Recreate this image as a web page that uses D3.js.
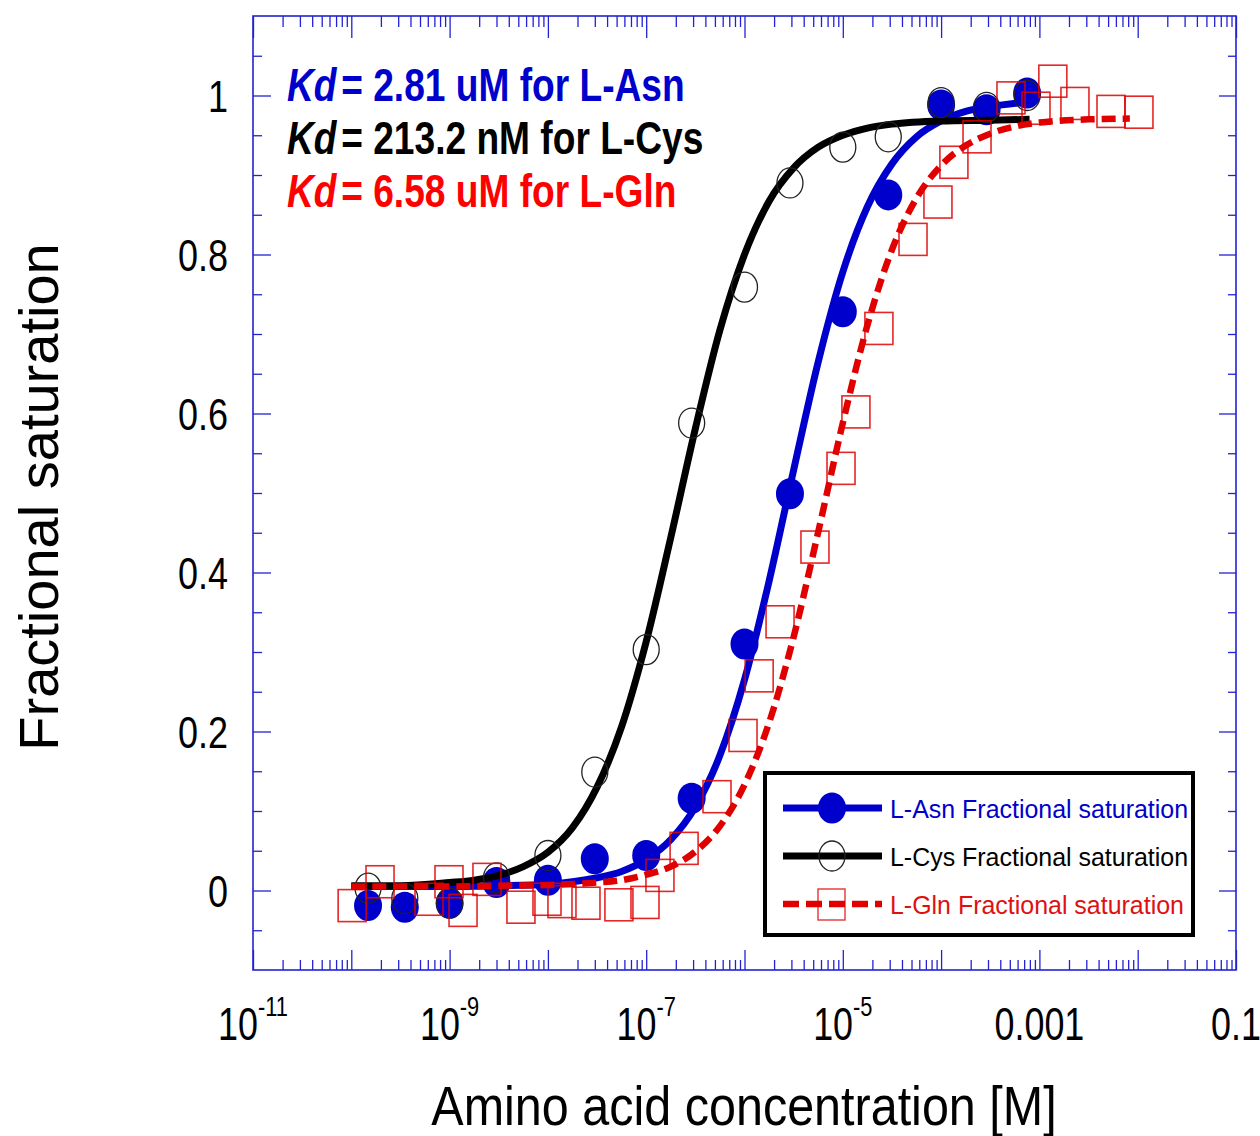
<!DOCTYPE html>
<html><head><meta charset="utf-8">
<script src="https://cdn.jsdelivr.net/npm/d3@7"></script>
<style>html,body{margin:0;padding:0;background:#fff;} svg{display:block;font-family:"Liberation Sans",Arial,sans-serif;}</style>
</head><body><svg id="chart" width="1260" height="1136"></svg>
<script>
// ---------------- data ----------------
const seriesNames = ["L-Asn Fractional saturation", "L-Cys Fractional saturation", "L-Gln Fractional saturation"];
const kdLabels = [["Kd", "= 2.81 uM for L-Asn"], ["Kd", "= 213.2 nM for L-Cys"], ["Kd", "= 6.58 uM for L-Gln"]];

const asnConc = [1.48e-10, 3.5e-10, 1.0e-9, 3.0e-9, 1.0e-8, 3.0e-8, 1.0e-7, 2.9e-7, 1.0e-6, 2.9e-6, 1.0e-5, 2.9e-5, 1.0e-4, 2.9e-4, 7.5e-4];
const asnFrac = [-0.019, -0.021, -0.016, 0.010, 0.013, 0.040, 0.044, 0.116, 0.310, 0.499, 0.728, 0.875, 0.988, 0.982, 1.003];

const cysConc = [1.48e-10, 3.5e-10, 1.0e-9, 3.0e-9, 1.0e-8, 3.0e-8, 1.0e-7, 2.9e-7, 1.0e-6, 2.9e-6, 1.0e-5, 2.9e-5, 1.0e-4, 2.9e-4, 7.5e-4];
const cysFrac = [0.003, -0.010, -0.016, 0.016, 0.044, 0.149, 0.303, 0.588, 0.759, 0.890, 0.935, 0.948, 0.991, 0.985, 1.000];

const glnConc = [1.02e-10, 1.96e-10, 6.17e-10, 9.86e-10, 1.37e-9, 2.40e-9, 5.32e-9, 9.79e-9, 1.39e-8, 2.44e-8, 5.28e-8, 9.72e-8,
  1.38e-7, 2.43e-7, 5.25e-7, 9.66e-7, 1.41e-6, 2.30e-6, 5.21e-6, 9.59e-6, 1.36e-5, 2.33e-5, 5.18e-5, 9.29e-5,
  1.35e-4, 2.32e-4, 5.14e-4, 9.23e-4, 1.37e-3, 2.30e-3, 5.35e-3, 1.03e-2];
const glnFrac = [-0.019, 0.011, -0.011, 0.011, -0.025, 0.014, -0.021, -0.011, -0.014, -0.016, -0.018, -0.015,
  0.019, 0.053, 0.118, 0.195, 0.270, 0.338, 0.432, 0.531, 0.602, 0.707, 0.819, 0.866,
  0.916, 0.948, 0.997, 0.984, 1.018, 0.990, 0.980, 0.979];

// fitted curves (log10 of concentration, fractional saturation)
const asnFitLog = [-10, -9.5, -9, -8.5, -8, -7.75, -7.5, -7.25, -7, -6.75, -6.5, -6.25, -6, -5.75, -5.5, -5.25, -5, -4.75, -4.5, -4.25, -4, -3.75, -3.5, -3.1];
const asnFitFrac = [0.005, 0.005, 0.005, 0.006, 0.008, 0.011, 0.016, 0.024, 0.039, 0.064, 0.105, 0.170, 0.265, 0.389, 0.529, 0.665, 0.778, 0.860, 0.914, 0.948, 0.968, 0.980, 0.986, 0.992];

const cysFitLog = [-10, -9.5, -9, -8.75, -8.5, -8.25, -8, -7.75, -7.5, -7.25, -7, -6.75, -6.5, -6.25, -6, -5.75, -5.5, -5.25, -5, -4.75, -4.5, -4, -3.5, -3.1];
const cysFitFrac = [0.006, 0.006, 0.010, 0.013, 0.019, 0.030, 0.048, 0.079, 0.130, 0.206, 0.313, 0.444, 0.581, 0.705, 0.800, 0.867, 0.909, 0.935, 0.950, 0.959, 0.964, 0.968, 0.969, 0.970];

const glnFitLog = [-10, -9.5, -9, -8.5, -8, -7.5, -7.25, -7, -6.75, -6.5, -6.25, -6, -5.75, -5.5, -5.25, -5, -4.75, -4.5, -4.25, -4, -3.75, -3.5, -3.25, -3, -2.5, -2.08];
const glnFitFrac = [0.005, 0.005, 0.005, 0.006, 0.007, 0.010, 0.013, 0.020, 0.030, 0.049, 0.081, 0.133, 0.211, 0.319, 0.451, 0.588, 0.711, 0.806, 0.871, 0.912, 0.937, 0.952, 0.961, 0.966, 0.970, 0.971];

const xMajorTicks = [1e-11, 1e-10, 1e-9, 1e-8, 1e-7, 1e-6, 1e-5, 1e-4, 1e-3, 1e-2, 1e-1];
const xLabelValues = [1e-11, 1e-9, 1e-7, 1e-5, 1e-3, 1e-1];
const xLabelBase = ["10", "10", "10", "10", "0.001", "0.1"];
const xLabelSup = ["-11", "-9", "-7", "-5", "", ""];
const yMajorTicks = [0, 0.2, 0.4, 0.6, 0.8, 1.0];
const yLabels = ["0", "0.2", "0.4", "0.6", "0.8", "1"];
const yMinorTicks = [-0.05, 0.05, 0.1, 0.15, 0.25, 0.3, 0.35, 0.45, 0.5, 0.55, 0.65, 0.7, 0.75, 0.85, 0.9, 0.95, 1.05];
const xMinorMultipliers = [2, 3, 4, 5, 6, 7, 8, 9];

// ---------------- drawing ----------------
const BLUE = "#0000cc", RED = "#e00000", AX = "#2222d4";
const svg = d3.select("#chart");
const L = 253, R = 1236, T = 16, B = 970;
const x = d3.scaleLog().domain([1e-11, 0.1]).range([L, R]);
const y = d3.scaleLinear().domain([-0.1, 1.1]).range([B, T]);

const xMinorTicks = [];
xMajorTicks.slice(0, -1).forEach(d => xMinorMultipliers.forEach(m => xMinorTicks.push(d * m)));

function styleAxis(g) {
  g.select(".domain").remove();
  g.selectAll(".tick line").attr("stroke", AX).attr("stroke-width", 1.3);
  g.selectAll(".tick text").remove();
}
// bottom (ticks up), top (ticks down)
svg.append("g").attr("transform", `translate(0,${B})`).call(d3.axisTop(x).tickValues(xMajorTicks).tickSize(20).tickFormat("")).call(styleAxis);
svg.append("g").attr("transform", `translate(0,${B})`).call(d3.axisTop(x).tickValues(xMinorTicks).tickSize(10).tickFormat("")).call(styleAxis);
svg.append("g").attr("transform", `translate(0,${T})`).call(d3.axisBottom(x).tickValues(xMajorTicks).tickSize(22).tickFormat("")).call(styleAxis);
svg.append("g").attr("transform", `translate(0,${T})`).call(d3.axisBottom(x).tickValues(xMinorTicks).tickSize(11).tickFormat("")).call(styleAxis);
// left (ticks right), right (ticks left)
svg.append("g").attr("transform", `translate(${L},0)`).call(d3.axisRight(y).tickValues(yMajorTicks).tickSize(18).tickFormat("")).call(styleAxis);
svg.append("g").attr("transform", `translate(${L},0)`).call(d3.axisRight(y).tickValues(yMinorTicks).tickSize(9).tickFormat("")).call(styleAxis);
svg.append("g").attr("transform", `translate(${R},0)`).call(d3.axisLeft(y).tickValues(yMajorTicks).tickSize(17).tickFormat("")).call(styleAxis);
svg.append("g").attr("transform", `translate(${R},0)`).call(d3.axisLeft(y).tickValues(yMinorTicks).tickSize(8).tickFormat("")).call(styleAxis);

svg.append("rect").attr("x", L).attr("y", T).attr("width", R - L).attr("height", B - T)
  .attr("fill", "none").attr("stroke", AX).attr("stroke-width", 1.6);

// tick labels
const TS = 0.78;
xLabelValues.forEach((v, i) => {
  const g = svg.append("g").attr("transform", `translate(${x(v)},1040) scale(${TS},1)`);
  const t = g.append("text").attr("text-anchor", "middle").attr("font-size", 46).attr("fill", "#000");
  t.append("tspan").text(xLabelBase[i]);
  if (xLabelSup[i]) t.append("tspan").attr("font-size", 28).attr("dy", -24).text(xLabelSup[i]);
});
yMajorTicks.forEach((v, i) => {
  svg.append("g").attr("transform", `translate(228,${y(v) + 16}) scale(0.8,1)`)
    .append("text").attr("text-anchor", "end").attr("font-size", 45).attr("fill", "#000").text(yLabels[i]);
});

// axis titles
svg.append("text").attr("transform", "translate(58,497) rotate(-90)").attr("text-anchor", "middle")
  .attr("font-size", 56).attr("fill", "#000").text("Fractional saturation");
svg.append("g").attr("transform", "translate(744,1125) scale(0.866,1)")
  .append("text").attr("text-anchor", "middle").attr("font-size", 56).attr("fill", "#000").text("Amino acid concentration [M]");

// curves and markers
const line = d3.line().x(d => x(Math.pow(10, d[0]))).y(d => y(d[1])).curve(d3.curveMonotoneX);
const plot = svg.append("g");

plot.append("path").datum(d3.zip(asnFitLog, asnFitFrac)).attr("d", line)
  .attr("fill", "none").attr("stroke", BLUE).attr("stroke-width", 7);
plot.selectAll(".asn").data(d3.zip(asnConc, asnFrac)).join("ellipse")
  .attr("cx", d => x(d[0])).attr("cy", d => y(d[1])).attr("rx", 14).attr("ry", 15.5).attr("fill", BLUE);

plot.append("path").datum(d3.zip(cysFitLog, cysFitFrac)).attr("d", line)
  .attr("fill", "none").attr("stroke", "#000").attr("stroke-width", 7);
plot.selectAll(".cys").data(d3.zip(cysConc, cysFrac)).join("ellipse")
  .attr("cx", d => x(d[0])).attr("cy", d => y(d[1])).attr("rx", 13).attr("ry", 15)
  .attr("fill", "none").attr("stroke", "#222").attr("stroke-width", 1.3);

plot.append("path").datum(d3.zip(glnFitLog, glnFitFrac)).attr("d", line)
  .attr("fill", "none").attr("stroke", RED).attr("stroke-width", 6.5).attr("stroke-dasharray", "14,7");
plot.selectAll(".gln").data(d3.zip(glnConc, glnFrac)).join("rect")
  .attr("x", d => x(d[0]) - 14).attr("y", d => y(d[1]) - 16).attr("width", 28).attr("height", 32)
  .attr("fill", "none").attr("stroke", RED).attr("stroke-width", 1.6).attr("stroke-opacity", 0.85);

// Kd annotations
const kdColors = [BLUE, "#000", "#ff0000"];
kdLabels.forEach((k, i) => {
  const t = svg.append("g").attr("transform", `translate(287,${101 + i * 53}) scale(0.79,1)`)
    .append("text").attr("font-size", 47).attr("font-weight", "bold").attr("fill", kdColors[i]);
  t.append("tspan").attr("font-style", "italic").text(k[0]);
  t.append("tspan").attr("dx", 6).text(k[1]);
});

// legend
const lg = svg.append("g");
lg.append("rect").attr("x", 765).attr("y", 773).attr("width", 428).attr("height", 162)
  .attr("fill", "#fff").attr("stroke", "#000").attr("stroke-width", 4);
const legendColors = [BLUE, "#000", RED];
const legendText = [BLUE, "#000", "#dd1111"];
seriesNames.forEach((name, i) => {
  const cy = 808 + i * 48;
  const ln = lg.append("line").attr("x1", 783).attr("x2", 882).attr("y1", cy).attr("y2", cy)
    .attr("stroke", legendColors[i]).attr("stroke-width", i === 2 ? 6.5 : 7);
  if (i === 2) ln.attr("stroke-dasharray", "16,7");
  if (i === 0) lg.append("ellipse").attr("cx", 832).attr("cy", cy).attr("rx", 14).attr("ry", 15.5).attr("fill", BLUE);
  if (i === 1) lg.append("ellipse").attr("cx", 832).attr("cy", cy).attr("rx", 13).attr("ry", 15).attr("fill", "none").attr("stroke", "#222").attr("stroke-width", 1.3);
  if (i === 2) lg.append("rect").attr("x", 818).attr("y", cy - 15).attr("width", 27).attr("height", 31).attr("fill", "none").attr("stroke", RED).attr("stroke-width", 1.4).attr("stroke-opacity", 0.8);
  lg.append("g").attr("transform", `translate(890,${cy + 10}) scale(0.96,1)`)
    .append("text").attr("font-size", 26).attr("fill", legendText[i]).text(name);
});
</script></body></html>
